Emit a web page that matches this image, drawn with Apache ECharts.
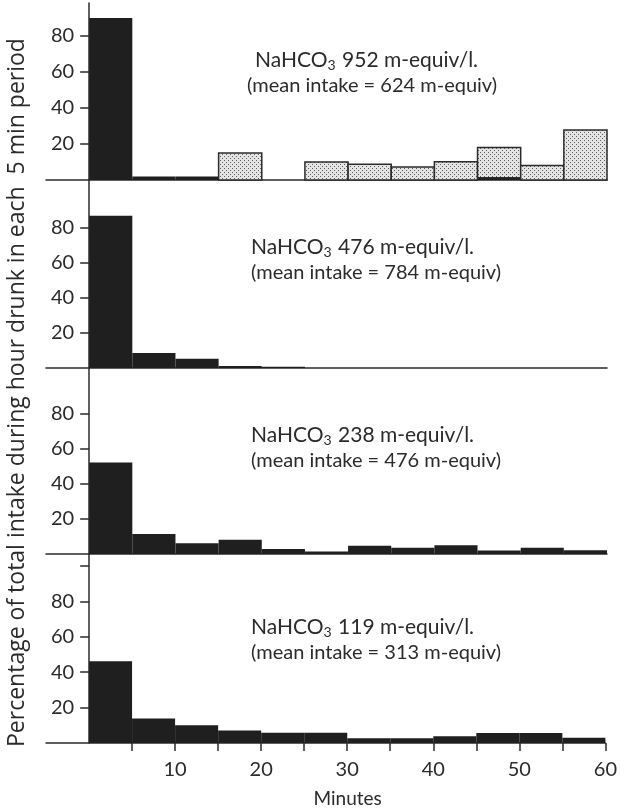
<!DOCTYPE html>
<html>
<head>
<meta charset="utf-8">
<script src="https://cdn.jsdelivr.net/npm/echarts@6/dist/echarts.min.js"></script>
<style>
html,body{margin:0;padding:0;background:#fff;}
#chart{width:620px;height:809px;}
</style>
</head>
<body>
<div id="chart"></div>
<script>
// ---- data ----
const binStarts = [0, 5, 10, 15, 20, 25, 30, 35, 40, 45, 50, 55];
const binWidth = 5;
// panel 1: NaHCO3 952 m-equiv/l.
const p1Solid = [90, 2, 2, 0, 0, 0, 0, 0, 0, 1.2, 0, 0];
const p1Stippled = [0, 0, 0, 15, 0, 10, 8.7, 7.2, 10.2, 16.8, 8, 27.8];
// panel 2: NaHCO3 476 m-equiv/l.
const p2Solid = [87, 8.5, 5.3, 1.1, 0.7, 0, 0, 0, 0, 0, 0, 0];
// panel 3: NaHCO3 238 m-equiv/l.
const p3Solid = [52.3, 11.4, 6.2, 8.2, 2.8, 1.5, 4.7, 3.6, 5, 2, 3.6, 2.2];
// panel 4: NaHCO3 119 m-equiv/l.
const p4Solid = [46.2, 13.8, 10, 7, 5.8, 5.8, 2.7, 2.7, 3.8, 5.7, 5.7, 3];

const concLabels = ['952', '476', '238', '119'];
const intakeLabels = ['624', '784', '476', '313'];
const yTickLabels = [20, 40, 60, 80];
const xTickValues = [5, 10, 15, 20, 25, 30, 35, 40, 45, 50, 55, 60];
const xLabelValues = [10, 20, 30, 40, 50, 60];
const yTitle = 'Percentage of total intake during hour drunk in each  5 min period';
const xTitle = 'Minutes';

// ---- styles ----
const FONT = 'Lato';
const INK = '#2b2b2b';
const BAR = '#1f1f1f';

function stipple() {
  const c = document.createElement('canvas');
  c.width = 4; c.height = 4;
  const g = c.getContext('2d');
  g.fillStyle = '#e4e4e4';
  g.fillRect(0, 0, 4, 4);
  g.fillStyle = '#5e5e5e';
  g.fillRect(0, 0, 1, 1);
  g.fillRect(2, 2, 1, 1);
  return c;
}
const stipplePattern = { image: stipple(), repeat: 'repeat' };

function binData(vals, bases) {
  return binStarts.map((s, i) => {
    const b = bases ? bases[i] : 0;
    return [s, s + binWidth, b, b + vals[i]];
  });
}

function renderBin(params, api) {
  const x0 = api.value(0), x1 = api.value(1), y0 = api.value(2), y1 = api.value(3);
  if (y1 <= y0) return;
  const a = api.coord([x0, y1]);
  const b = api.coord([x1, y0]);
  return {
    type: 'rect',
    shape: { x: a[0], y: a[1], width: b[0] - a[0], height: b[1] - a[1] },
    style: api.style()
  };
}

// layout (px)
const GRID_LEFT = 46, GRID_RIGHT = 13, X_MIN = -5, X_MAX = 60;
const pxPerMin = (620 - GRID_LEFT - GRID_RIGHT) / (X_MAX - X_MIN);
const grids = [
  { top: 3, height: 177, max: 98.3, ticks: [20, 40, 60, 80] },
  { top: 180, height: 188, max: 107.4, ticks: [20, 40, 60, 80] },
  { top: 368, height: 186, max: 106.3, ticks: [20, 40, 60, 80] },
  { top: 554, height: 189, max: 106.8, ticks: [20, 40, 60, 80, 100] }
];

const option = {
  animation: false,
  backgroundColor: '#ffffff',
  textStyle: { fontFamily: FONT, color: INK },
  grid: grids.map(g => ({ left: GRID_LEFT, right: GRID_RIGHT, top: g.top, height: g.height })),
  xAxis: grids.map((g, i) => ({
    type: 'value', gridIndex: i, min: X_MIN, max: X_MAX,
    axisLine: { show: true, onZero: false, lineStyle: { color: INK, width: 1.5 } },
    splitLine: { show: false },
    axisTick: i === 3 ? { show: true, inside: false, length: 8, customValues: xTickValues, lineStyle: { color: INK, width: 1.5 } } : { show: false },
    axisLabel: i === 3 ? { show: true, customValues: xLabelValues, margin: 17, fontSize: 20, color: INK, fontFamily: FONT } : { show: false },
    name: i === 3 ? xTitle : '',
    nameLocation: 'middle', nameGap: 46,
    nameTextStyle: { fontSize: 19, color: INK, fontFamily: FONT, padding: [0, 0, 0, 44] }
  })),
  yAxis: grids.map((g, i) => ({
    type: 'value', gridIndex: i, min: 0, max: g.max,
    offset: -(0 - X_MIN) * pxPerMin,
    axisLine: { show: true, onZero: false, lineStyle: { color: INK, width: 1.5 } },
    splitLine: { show: false },
    axisTick: { show: true, length: 9, customValues: g.ticks, lineStyle: { color: INK, width: 1.5 } },
    axisLabel: { show: true, customValues: yTickLabels, margin: 15, fontSize: 20, color: INK, fontFamily: FONT }
  })),
  title: [].concat(...concLabels.map((c, i) => {
    const line1Top = [43, 230, 418, 610][i];
    const line1Left = i === 0 ? 250 : 246;
    const line2Left = i === 0 ? 242 : 246;
    return [
      {
        left: line1Left, top: line1Top,
        text: '{a|NaHCO}{s|3}{a| ' + c + ' m-equiv/l.}',
        textStyle: { fontWeight: 'normal', rich: {
          a: { fontSize: 21, fontFamily: FONT, color: INK, fontWeight: 'normal' },
          s: { fontSize: 14, fontFamily: FONT, color: INK, fontWeight: 'normal', padding: [10, 1, 0, 0] }
        } }
      },
      {
        left: line2Left, top: line1Top + 28,
        text: '(mean intake = ' + intakeLabels[i] + ' m-equiv)',
        textStyle: { fontSize: 20, fontFamily: FONT, color: INK, fontWeight: 'normal' }
      }
    ];
  })),
  graphic: [{
    type: 'text', x: 6, y: 747, rotation: Math.PI / 2,
    style: { text: yTitle, font: '23px "Open Sans"', fill: INK, align: 'left', verticalAlign: 'top' }
  }],
  series: [
    { type: 'custom', xAxisIndex: 0, yAxisIndex: 0, renderItem: renderBin, data: binData(p1Solid),
      itemStyle: { color: BAR }, encode: { x: [0, 1], y: [2, 3] } },
    { type: 'custom', xAxisIndex: 0, yAxisIndex: 0, renderItem: renderBin, data: binData(p1Stippled, p1Solid),
      itemStyle: { color: stipplePattern, borderColor: INK, borderWidth: 1.5 }, encode: { x: [0, 1], y: [2, 3] } },
    { type: 'custom', xAxisIndex: 1, yAxisIndex: 1, renderItem: renderBin, data: binData(p2Solid),
      itemStyle: { color: BAR }, encode: { x: [0, 1], y: [2, 3] } },
    { type: 'custom', xAxisIndex: 2, yAxisIndex: 2, renderItem: renderBin, data: binData(p3Solid),
      itemStyle: { color: BAR }, encode: { x: [0, 1], y: [2, 3] } },
    { type: 'custom', xAxisIndex: 3, yAxisIndex: 3, renderItem: renderBin, data: binData(p4Solid),
      itemStyle: { color: BAR }, encode: { x: [0, 1], y: [2, 3] } }
  ]
};

const chart = echarts.init(document.getElementById('chart'), null, { renderer: 'canvas' });
chart.setOption(option);
</script>
</body>
</html>
